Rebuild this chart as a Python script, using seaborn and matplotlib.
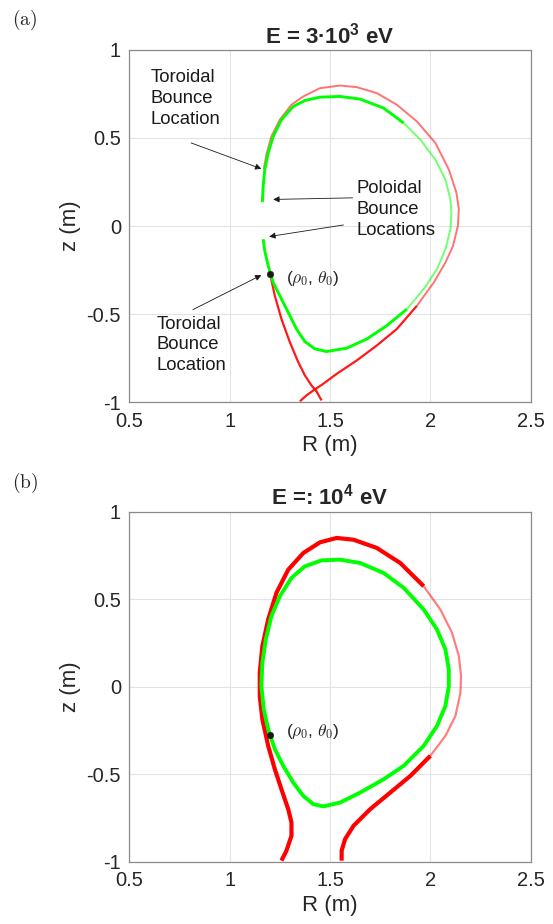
import numpy as np
import pandas as pd
import matplotlib
matplotlib.use("Agg")
import matplotlib.pyplot as plt
import seaborn as sns

# ---------------- data (R, z in metres) ----------------
# Panel (a): E = 3e3 eV  -- green (confined) orbit, inner-left part then outer right (faint) part
a_green_left_R = [1.163, 1.167, 1.175, 1.192, 1.217, 1.258, 1.317, 1.375, 1.450, 1.550, 1.650, 1.767, 1.867]
a_green_left_z = [0.136, 0.226, 0.321, 0.415, 0.509, 0.604, 0.679, 0.713, 0.732, 0.736, 0.721, 0.670, 0.585]
a_green_right_R = [1.867, 1.950, 2.025, 2.075, 2.100, 2.105, 2.100, 2.075, 2.033, 1.967, 1.883]
a_green_right_z = [0.585, 0.491, 0.377, 0.264, 0.151, 0.075, -0.019, -0.132, -0.245, -0.358, -0.472]
a_green_low_R = [1.883, 1.783, 1.683, 1.583, 1.483, 1.425, 1.375, 1.333, 1.292, 1.250, 1.217, 1.192,
                 1.175, 1.167]
a_green_low_z = [-0.472, -0.566, -0.642, -0.694, -0.713, -0.698, -0.657, -0.585, -0.491, -0.396, -0.321,
                 -0.226, -0.142, -0.075]

# red (lost) orbit, panel (a)
a_red_top_R = [1.170, 1.183, 1.208, 1.250, 1.308, 1.367, 1.450, 1.550, 1.633, 1.733, 1.833, 1.933,
               2.025, 2.092, 2.130, 2.142, 2.137, 2.113, 2.075, 2.017, 1.933]
a_red_top_z = [0.321, 0.406, 0.509, 0.604, 0.689, 0.736, 0.783, 0.798, 0.789, 0.755, 0.689, 0.594,
               0.472, 0.321, 0.189, 0.094, 0.000, -0.113, -0.208, -0.321, -0.453]
a_red_low_R = [1.933, 1.833, 1.733, 1.633, 1.533, 1.467, 1.425, 1.383, 1.350]
a_red_low_z = [-0.453, -0.585, -0.679, -0.764, -0.840, -0.896, -0.928, -0.962, -0.996]
a_red_leg_R = [1.203, 1.225, 1.258, 1.300, 1.342, 1.375, 1.408, 1.433, 1.458]
a_red_leg_z = [-0.279, -0.396, -0.528, -0.660, -0.774, -0.849, -0.906, -0.940, -0.991]

# Panel (b): E = 1e4 eV
b_green_R = [1.158, 1.163, 1.180, 1.208, 1.250, 1.308, 1.375, 1.458, 1.550, 1.650, 1.767, 1.867, 1.967,
             2.033, 2.075, 2.092, 2.092, 2.075, 2.033, 1.967, 1.867, 1.767, 1.650, 1.550, 1.467, 1.417,
             1.367, 1.317, 1.267, 1.225, 1.192, 1.170, 1.158]
b_green_z = [0.004, 0.137, 0.270, 0.403, 0.517, 0.622, 0.688, 0.722, 0.726, 0.707, 0.650, 0.565, 0.441,
             0.327, 0.213, 0.099, 0.004, -0.110, -0.224, -0.338, -0.452, -0.529, -0.605, -0.662, -0.684,
             -0.671, -0.624, -0.548, -0.452, -0.357, -0.243, -0.129, 0.004]

b_red_left_R = [1.258, 1.283, 1.308, 1.308, 1.292, 1.258, 1.225, 1.192, 1.163, 1.150, 1.150, 1.163, 1.192,
                1.233, 1.292, 1.367, 1.450, 1.533, 1.617, 1.733, 1.850, 1.967]
b_red_left_z = [-0.994, -0.937, -0.852, -0.776, -0.700, -0.586, -0.471, -0.338, -0.186, -0.053, 0.080,
                0.232, 0.384, 0.536, 0.669, 0.764, 0.825, 0.850, 0.840, 0.793, 0.707, 0.574]
b_red_faint_R = [1.967, 2.050, 2.108, 2.142, 2.153, 2.150, 2.125, 2.075, 2.000]
b_red_faint_z = [0.574, 0.441, 0.308, 0.175, 0.061, -0.034, -0.167, -0.281, -0.395]
b_red_right_R = [2.000, 1.900, 1.800, 1.700, 1.617, 1.575, 1.558, 1.558]
b_red_right_z = [-0.395, -0.510, -0.605, -0.700, -0.795, -0.871, -0.937, -0.994]

start_R = [1.203, 1.203]
start_z = [-0.274, -0.275]

titles = ["E = 3\u00b710$^{\\mathbf{3}}$ eV", "E =: 10$^{\\mathbf{4}}$ eV"]
x_ticks = [0.5, 1, 1.5, 2, 2.5]
y_ticks = [-1, -0.5, 0, 0.5, 1]
x_ticklabels = ["0.5", "1", "1.5", "2", "2.5"]
y_ticklabels = ["-1", "-0.5", "0", "0.5", "1"]

# ---------------- style ----------------
sns.set_theme(style="whitegrid")
plt.rcParams["font.family"] = ["Liberation Sans", "DejaVu Sans"]
plt.rcParams["mathtext.fontset"] = "cm"
plt.rcParams["mathtext.rm"] = "Liberation Sans"
plt.rcParams["mathtext.bf"] = "Liberation Sans:bold"
plt.rcParams["mathtext.it"] = "Liberation Sans:italic"

GREEN = "#00ff00"
RED = "#ff0000"

fig = plt.figure(figsize=(5.53, 9.24), dpi=100)
ax1 = fig.add_axes([0.2338, 0.5649, 0.7259, 0.3810])
ax2 = fig.add_axes([0.2338, 0.0674, 0.7259, 0.3788])


def style_axes(ax, title):
    ax.set_xlim(0.5, 2.5)
    ax.set_ylim(-1, 1)
    ax.set_xticks(x_ticks)
    ax.set_xticklabels(x_ticklabels)
    ax.set_yticks(y_ticks)
    ax.set_yticklabels(y_ticklabels)
    ax.grid(True, color="#e3e3e3", lw=0.8)
    ax.set_facecolor("white")
    for s in ax.spines.values():
        s.set_visible(True)
        s.set_color("#8a8a8a")
        s.set_linewidth(0.9)
    ax.tick_params(axis="x", labelsize=14.5, colors="#262626", length=0, pad=7)
    ax.tick_params(axis="y", labelsize=14.5, colors="#262626", length=0, pad=6)
    ax.set_xlabel("R (m)", fontsize=16, color="#262626", labelpad=3)
    ax.set_ylabel("z (m)", fontsize=16, color="#262626", labelpad=4)
    ax.set_title(title, fontsize=16, fontweight="bold", pad=5, math_fontfamily="custom")


def draw(ax, R, z, color, lw, alpha=1.0):
    sns.lineplot(x=R, y=z, sort=False, estimator=None, color=color, lw=lw, alpha=alpha,
                 ax=ax, solid_capstyle="butt", solid_joinstyle="round")


rho_label = "($\\rho_{\\mathsf{0}}$, $\\theta_{\\mathsf{0}}$)"

# Panel (a)
draw(ax1, a_red_top_R, a_red_top_z, RED, 1.4, 0.55)
draw(ax1, a_red_low_R, a_red_low_z, RED, 1.6, 0.9)
draw(ax1, a_red_leg_R, a_red_leg_z, RED, 1.6, 0.9)
draw(ax1, a_green_left_R, a_green_left_z, GREEN, 2.1)
draw(ax1, a_green_right_R, a_green_right_z, GREEN, 1.4, 0.55)
draw(ax1, a_green_low_R, a_green_low_z, GREEN, 2.1)
sns.scatterplot(x=[start_R[0]], y=[start_z[0]], color="k", s=22, ax=ax1, zorder=5, edgecolor="k")
style_axes(ax1, titles[0])

ax1.text(1.283, -0.302, rho_label, fontsize=12.5, va="center", ha="left", math_fontfamily="cm")
arrow = dict(arrowstyle="-|>", color="k", lw=0.6, mutation_scale=9, shrinkA=0, shrinkB=0)
txt_kw = dict(fontsize=13.3, ha="left", va="top", linespacing=1.28, color="k")
ax1.annotate("", xy=(1.158, 0.325), xytext=(0.808, 0.472), arrowprops=arrow)
ax1.text(0.608, 0.89, "Toroidal\nBounce\nLocation", **txt_kw)
ax1.annotate("", xy=(1.217, 0.151), xytext=(1.613, 0.160), arrowprops=arrow)
ax1.annotate("", xy=(1.197, -0.060), xytext=(1.567, 0.006), arrowprops=arrow)
ax1.text(1.630, 0.26, "Poloidal\nBounce\nLocations", **txt_kw)
ax1.annotate("", xy=(1.158, -0.279), xytext=(0.817, -0.475), arrowprops=arrow)
ax1.text(0.637, -0.51, "Toroidal\nBounce\nLocation", **txt_kw)

# Panel (b)
draw(ax2, b_red_left_R, b_red_left_z, RED, 3.0)
draw(ax2, b_red_faint_R, b_red_faint_z, RED, 1.6, 0.5)
draw(ax2, b_red_right_R, b_red_right_z, RED, 3.0)
draw(ax2, b_green_R, b_green_z, GREEN, 2.8)
sns.scatterplot(x=[start_R[1]], y=[start_z[1]], color="k", s=22, ax=ax2, zorder=5, edgecolor="k")
style_axes(ax2, titles[1])
ax2.text(1.283, -0.260, rho_label, fontsize=12.5, va="center", ha="left", math_fontfamily="cm")

fig.text(12 / 553, 1 - 8 / 924, "$\\mathrm{(a)}$", fontsize=14, va="top", ha="left", math_fontfamily="cm")
fig.text(12 / 553, 1 - 471 / 924, "$\\mathrm{(b)}$", fontsize=14, va="top", ha="left", math_fontfamily="cm")

fig.savefig("out.png", dpi=100)
